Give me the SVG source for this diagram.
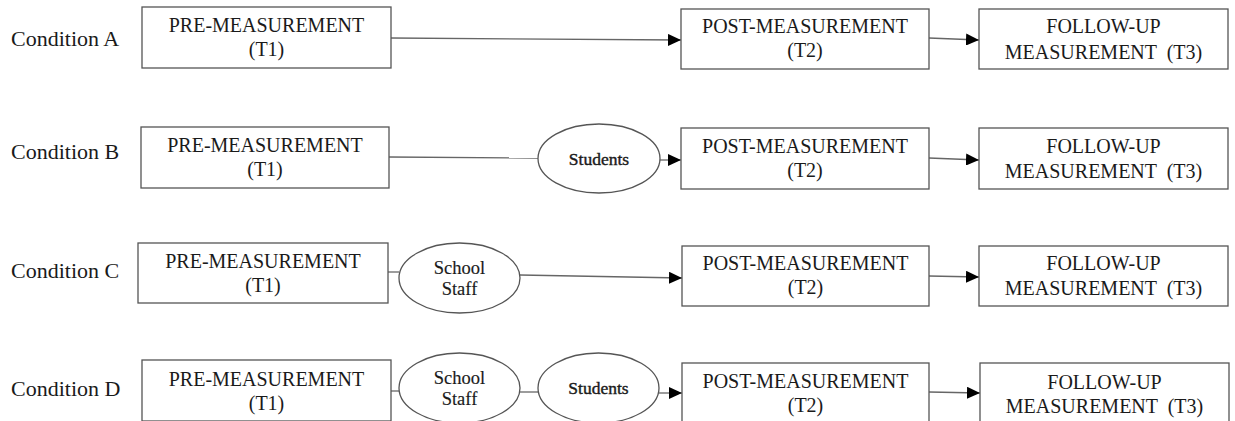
<svg xmlns="http://www.w3.org/2000/svg" width="1235" height="421" viewBox="0 0 1235 421">
<style>
.box{fill:#fff;stroke:#555;stroke-width:1.3}
.ell{fill:#fff;stroke:#555;stroke-width:1.3}
.t{font-family:"Liberation Serif","Times New Roman",serif;font-size:20px;fill:#1a1a1a;text-anchor:middle;white-space:pre}
.lab{font-family:"Liberation Serif","Times New Roman",serif;font-size:22px;fill:#1a1a1a}
.st{font-family:"Liberation Serif","Times New Roman",serif;font-size:17.5px;fill:#1a1a1a;stroke:#1a1a1a;stroke-width:0.4;text-anchor:middle}
.ss{font-family:"Liberation Serif","Times New Roman",serif;font-size:18.5px;fill:#1a1a1a;stroke:#1a1a1a;stroke-width:0.15;text-anchor:middle}
.ln{fill:none;stroke:#666;stroke-width:1.3}
.ar{fill:none;stroke:#666;stroke-width:1.3;marker-end:url(#ah)}
</style>
<defs>
<marker id="ah" markerUnits="userSpaceOnUse" markerWidth="14" markerHeight="12" refX="13" refY="6" orient="auto">
<path d="M0,0 L13,6 L0,12 Z" fill="#000"/>
</marker>
</defs>
<rect width="1235" height="421" fill="#fff"/>

<g id="labels">
<text class="lab" x="11" y="46">Condition A</text>
<text class="lab" x="11" y="159">Condition B</text>
<text class="lab" x="11" y="278">Condition C</text>
<text class="lab" x="11" y="396">Condition D</text>
</g>

<g id="connectors">
<line class="ar" x1="391" y1="38" x2="681" y2="40"/>
<line class="ar" x1="929" y1="38" x2="979" y2="40"/>
<line class="ln" x1="389" y1="157" x2="538" y2="158"/>
<line class="ar" x1="660" y1="160" x2="681" y2="160"/>
<line class="ar" x1="929" y1="158" x2="979" y2="160"/>
<line class="ln" x1="388" y1="272" x2="399" y2="272"/>
<line class="ar" x1="520" y1="275" x2="682" y2="278"/>
<line class="ar" x1="929" y1="276" x2="979" y2="277"/>
<line class="ln" x1="391" y1="391" x2="399" y2="391"/>
<line class="ln" x1="520" y1="392" x2="538" y2="392"/>
<line class="ar" x1="659" y1="393" x2="682" y2="393"/>
<line class="ar" x1="929" y1="392" x2="980" y2="393"/>
</g>

<g id="A-pre"><rect class="box" x="142" y="7" width="249" height="61"/><text class="t" x="266.5" y="32">PRE-MEASUREMENT</text><text class="t" x="266.5" y="56">(T1)</text></g>
<g id="A-post"><rect class="box" x="681" y="9" width="248" height="60"/><text class="t" x="805" y="33">POST-MEASUREMENT</text><text class="t" x="805" y="57">(T2)</text></g>
<g id="A-follow"><rect class="box" x="979" y="9" width="249" height="60"/><text class="t" x="1103.5" y="33">FOLLOW-UP</text><text class="t" x="1103.5" y="59">MEASUREMENT  (T3)</text></g>

<g id="B-pre"><rect class="box" x="141" y="127" width="248" height="61"/><text class="t" x="265" y="152">PRE-MEASUREMENT</text><text class="t" x="265" y="176">(T1)</text></g>
<g id="B-students"><ellipse class="ell" cx="599" cy="158.5" rx="61" ry="34.5"/><text class="st" x="599" y="165">Students</text></g>
<g id="B-post"><rect class="box" x="681" y="128" width="248" height="61"/><text class="t" x="805" y="153">POST-MEASUREMENT</text><text class="t" x="805" y="177">(T2)</text></g>
<g id="B-follow"><rect class="box" x="979" y="128" width="249" height="61"/><text class="t" x="1103.5" y="153">FOLLOW-UP</text><text class="t" x="1103.5" y="178">MEASUREMENT  (T3)</text></g>

<g id="C-pre"><rect class="box" x="138" y="243" width="250" height="60"/><text class="t" x="263" y="268">PRE-MEASUREMENT</text><text class="t" x="263" y="292">(T1)</text></g>
<g id="C-staff"><ellipse class="ell" cx="459.5" cy="278" rx="60.5" ry="35"/><text class="ss" x="459.5" y="274">School</text><text class="ss" x="459.5" y="295">Staff</text></g>
<g id="C-post"><rect class="box" x="682" y="246" width="247" height="60"/><text class="t" x="805.5" y="270">POST-MEASUREMENT</text><text class="t" x="805.5" y="294">(T2)</text></g>
<g id="C-follow"><rect class="box" x="979" y="246" width="249" height="60"/><text class="t" x="1103.5" y="270">FOLLOW-UP</text><text class="t" x="1103.5" y="295">MEASUREMENT  (T3)</text></g>

<g id="D-pre"><rect class="box" x="142" y="360" width="249" height="61"/><text class="t" x="266.5" y="386">PRE-MEASUREMENT</text><text class="t" x="266.5" y="410">(T1)</text></g>
<g id="D-staff"><ellipse class="ell" cx="459.5" cy="388" rx="60.5" ry="35"/><text class="ss" x="459.5" y="384">School</text><text class="ss" x="459.5" y="405">Staff</text></g>
<g id="D-students"><ellipse class="ell" cx="598.5" cy="388" rx="60.5" ry="35"/><text class="st" x="598.5" y="394">Students</text></g>
<g id="D-post"><rect class="box" x="682" y="363" width="247" height="61"/><text class="t" x="805.5" y="388">POST-MEASUREMENT</text><text class="t" x="805.5" y="412">(T2)</text></g>
<g id="D-follow"><rect class="box" x="980" y="363" width="249" height="61"/><text class="t" x="1104.5" y="389">FOLLOW-UP</text><text class="t" x="1104.5" y="413">MEASUREMENT  (T3)</text></g>
</svg>
